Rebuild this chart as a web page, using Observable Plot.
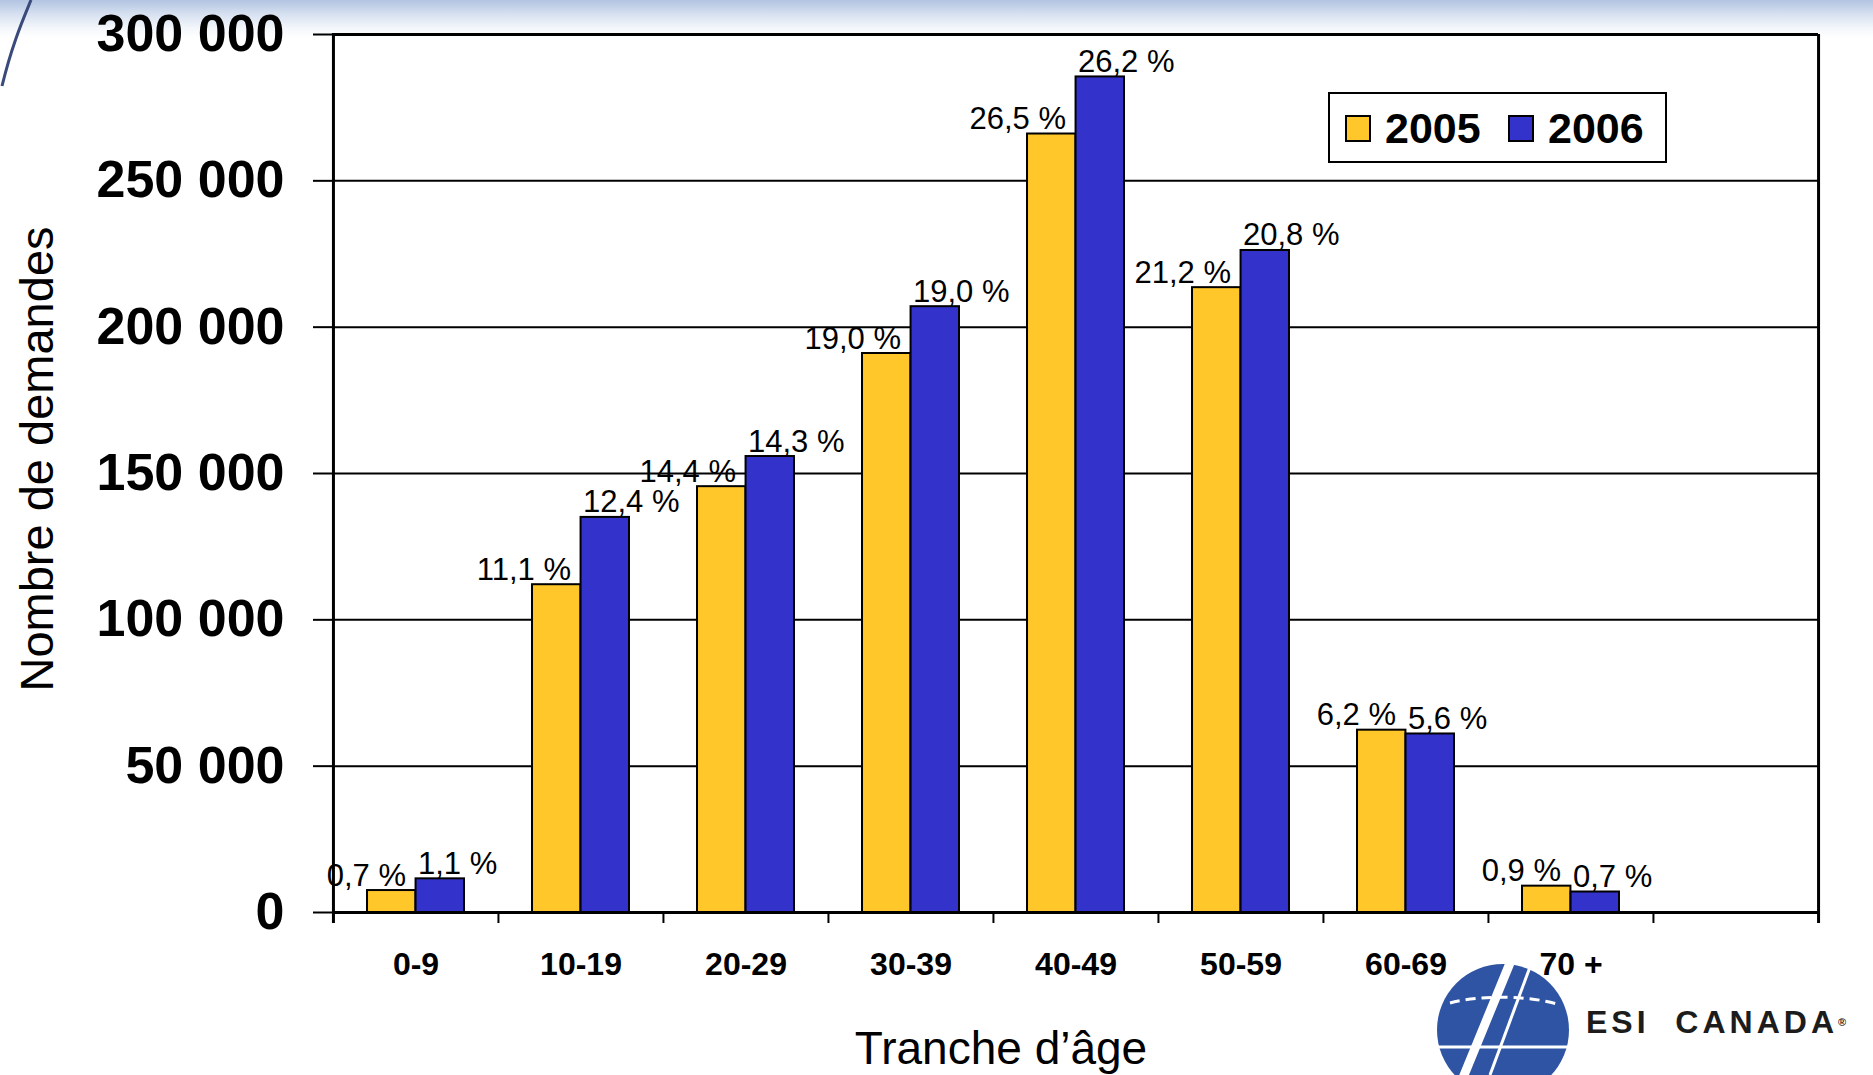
<!DOCTYPE html>
<html>
<head>
<meta charset="utf-8">
<script src="https://cdn.jsdelivr.net/npm/d3@7"></script>
<script src="https://cdn.jsdelivr.net/npm/@observablehq/plot@0.6"></script>
<style>
  html, body { margin: 0; padding: 0; background: #fff; }
  #wrap { position: relative; width: 1873px; height: 1075px; overflow: hidden; background: #fff;
          font-family: "Liberation Sans", Arial, sans-serif; color: #000; }
  #band { position: absolute; left: 0; top: 0; width: 1873px; height: 40px;
          background: linear-gradient(#b2c4e2 0px, #d6e0f0 14px, #f4f7fb 28px, #ffffff 38px); }
  #chart { position: absolute; left: 0; top: 0; }
  .abs { position: absolute; white-space: nowrap; }
</style>
</head>
<body>
<div id="wrap">
  <div id="band"></div>
  <svg class="abs" style="left:0;top:0" width="60" height="90">
    <path d="M31,0 C22,22 12,45 2,86" fill="none" stroke="#3a4a7a" stroke-width="3"/>
  </svg>
  <svg class="abs" id="logo" style="left:1420px;top:955px" width="170" height="120">
    <circle cx="83" cy="75" r="66" fill="#2f54a3"/>
    <path d="M30,48 C60,40 110,40 140,50" fill="none" stroke="#fff" stroke-width="3" stroke-dasharray="10 6"/>
    <path d="M18,92 L150,92" fill="none" stroke="#fff" stroke-width="3"/>
    <path d="M90,8 L40,130" fill="none" stroke="#fff" stroke-width="9"/>
    <path d="M110,12 L70,120" fill="none" stroke="#fff" stroke-width="3"/>
  </svg>
  <div class="abs" id="logotext" style="left:1586px;top:1002px;font-size:32px;font-weight:bold;letter-spacing:4px;color:#1c1c1c;line-height:40px;">ESI&nbsp;&nbsp;CANADA<span style="font-size:11px;vertical-align:top;letter-spacing:0">®</span></div>
  <div id="chart"></div>
  <div class="abs" id="ytitle" style="left:36px;top:459px;font-size:47px;line-height:47px;transform:translate(-50%,-50%) rotate(-90deg);">Nombre de demandes</div>
  <div class="abs" id="xtitle" style="left:1001px;top:1025px;font-size:46px;line-height:46px;transform:translateX(-50%);">Tranche d’âge</div>
  <div class="abs" id="legend" style="left:1328px;top:92px;width:339px;height:71px;box-sizing:border-box;border:2.5px solid #000;background:#fff;"></div>
</div>
<script>
// ---- data ----
const categories = ["0-9", "10-19", "20-29", "30-39", "40-49", "50-59", "60-69", "70 +"];
const years = ["2005", "2006"];
const values2005 = [7500, 112000, 145500, 191000, 266000, 213500, 62300, 9000];
const values2006 = [11500, 135000, 155800, 207000, 285500, 226200, 61000, 7000];
const pct2005 = [0.7, 11.1, 14.4, 19.0, 26.5, 21.2, 6.2, 0.9];
const pct2006 = [1.1, 12.4, 14.3, 19.0, 26.2, 20.8, 5.6, 0.7];
const yTicks = [0, 50000, 100000, 150000, 200000, 250000, 300000];
const colors = ["#FFC72A", "#3333CC"];

// ---- layout ----
const W = 1873, H = 1075, ML = 332, MR = 55, MT = 34, MB = 163;
const xDomain = [...categories, ""];           // empty slot at the right, as in the original
const bw = (W - ML - MR) / xDomain.length;
const outer = bw * 0.206;

const rows2005 = categories.map((c, i) => ({cat: c, year: years[0], value: values2005[i], pct: pct2005[i]}));
const rows2006 = categories.map((c, i) => ({cat: c, year: years[1], value: values2006[i], pct: pct2006[i]}));

const fmtNum = d => d3.format(",")(d).replace(/,/g, " ");
const fmtPct = p => p.toFixed(1).replace(".", ",") + " %";

const chart = Plot.plot({
  width: W, height: H,
  marginLeft: ML, marginRight: MR, marginTop: MT, marginBottom: MB,
  style: {fontFamily: "'Liberation Sans', Arial, sans-serif", background: "transparent", color: "#000", overflow: "visible"},
  x: {type: "band", domain: xDomain, padding: 0, label: null},
  y: {domain: [0, 300000], label: null},
  marks: [
    Plot.gridY(yTicks, {stroke: "#000", strokeOpacity: 1, strokeWidth: 2}),
    Plot.axisY(yTicks, {tickSize: 19, tickPadding: 29, tickFormat: fmtNum, fontSize: 52, fontWeight: "bold", strokeWidth: 2, label: null}),
    Plot.barY(rows2005, {x: "cat", y: "value", fill: colors[0], stroke: "#000", strokeWidth: 2, insetLeft: outer, insetRight: bw / 2}),
    Plot.barY(rows2006, {x: "cat", y: "value", fill: colors[1], stroke: "#000", strokeWidth: 2, insetLeft: bw / 2, insetRight: outer}),
    Plot.text(rows2005, {x: "cat", y: "value", text: d => fmtPct(d.pct), textAnchor: "end", lineAnchor: "bottom", dx: -10, dy: -5, fontSize: 31, fill: "#000"}),
    Plot.text(rows2006, {x: "cat", y: "value", text: d => fmtPct(d.pct), textAnchor: "start", lineAnchor: "bottom", dx: 2, dy: -5, fontSize: 31, fill: "#000"}),
    Plot.ruleY([0], {stroke: "#000", strokeWidth: 3}),
    Plot.ruleY([300000], {stroke: "#000", strokeWidth: 3}),
    Plot.ruleX([xDomain[0]], {dx: -bw / 2, insetBottom: -11, stroke: "#000", strokeWidth: 3}),
    Plot.ruleX([xDomain[xDomain.length - 1]], {dx: bw / 2, insetBottom: -11, stroke: "#000", strokeWidth: 3}),
    Plot.ruleX(xDomain.slice(1), {dx: -bw / 2, y1: 0, y2: 0, insetBottom: -11, stroke: "#000", strokeWidth: 2}),
    Plot.axisX({tickSize: 0, tickPadding: 40, fontSize: 32, fontWeight: "bold", label: null})
  ]
});
document.getElementById("chart").appendChild(chart);

// ---- legend (HTML) ----
const legend = document.getElementById("legend");
const swatchLeft = [15, 178];
const textLeft = [55, 218];
years.forEach((y, i) => {
  const sw = document.createElement("div");
  sw.style.cssText = `position:absolute;left:${swatchLeft[i]}px;top:21px;width:22px;height:23px;background:${colors[i]};border:2px solid #000;`;
  legend.appendChild(sw);
  const tx = document.createElement("div");
  tx.textContent = y;
  tx.style.cssText = `position:absolute;left:${textLeft[i]}px;top:13px;font-size:43px;line-height:43px;font-weight:bold;`;
  legend.appendChild(tx);
});
</script>
</body>
</html>
